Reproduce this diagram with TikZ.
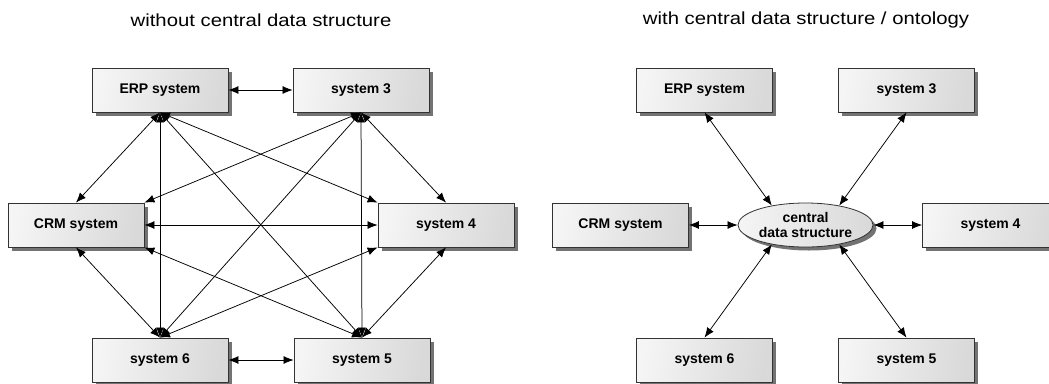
\documentclass[tikz,border=0pt]{standalone}
\usepackage{fontspec}
\setmainfont{Liberation Sans}
\usetikzlibrary{arrows.meta,shadows,shapes.geometric}
\tikzset{
  sysbox/.style={draw=black!80, line width=0.8pt, minimum width=136pt, minimum height=44pt,
    inner sep=0pt, left color=gray!8, right color=gray!30, shading angle=80,
    drop shadow={shadow xshift=3.5pt, shadow yshift=-3.5pt, fill=black!55, opacity=1},
    font=\fontsize{14}{15}\selectfont\bfseries},
  hub/.style={ellipse, draw=black!80, line width=0.8pt, minimum width=135pt, minimum height=44pt,
    inner sep=0pt, left color=gray!8, right color=gray!30,
    drop shadow={shadow xshift=3.5pt, shadow yshift=-3.5pt, fill=black!55, opacity=1},
    align=center, font=\fontsize{14}{15}\selectfont\bfseries},
  link/.style={line width=0.75pt, {Latex[length=10pt,width=8pt]}-{Latex[length=10pt,width=8pt]}},
  title/.style={font=\fontsize{17.5}{19}\selectfont, inner sep=0pt}
}
\begin{document}
\begin{tikzpicture}[x=1pt,y=-1pt]
\useasboundingbox[fill=white] (0,0) rectangle (1049,383);
\begin{scope}
\clip (0,0) rectangle (1049,383);
% titles
\node[title] (t1) at (261,20) {\scalebox{1.16}[1]{without central data structure}};
\node[title] (t2) at (806,20) {\scalebox{1.16}[1]{with central data structure / ontology}};
% left diagram
\node[sysbox] (erp) at (160,90) {ERP system};
\node[sysbox] (s3)  at (361,90) {system 3};
\node[sysbox] (crm) at (76,225) {CRM system};
\node[sysbox] (s4)  at (446,225) {system 4};
\node[sysbox] (s6)  at (160,360) {system 6};
\node[sysbox] (s5)  at (362,360) {system 5};
\draw[link] (erp.south) -- (crm.north);
\draw[link] (erp.south) -- (s6.north);
\draw[link] (erp.south) -- (s5.north);
\draw[link] (erp.south) -- (s4.north west);
\draw[link] (erp.east) -- (s3.west);
\draw[link] (s3.south) -- (crm.north east);
\draw[link] (s3.south) -- (s6.north);
\draw[link] (s3.south) -- (s5.north);
\draw[link] (s3.south) -- (s4.north);
\draw[link] (crm.east) -- (s4.west);
\draw[link] (crm.south) -- (s6.north);
\draw[link] (crm.south east) -- (s5.north);
\draw[link] (s4.south west) -- (s6.north);
\draw[link] (s4.south) -- (s5.north);
\draw[link] (s6.east) -- (s5.west);
% right diagram
\node[sysbox] (rerp) at (704.5,90) {ERP system};
\node[sysbox] (rs3)  at (906.5,90) {system 3};
\node[sysbox] (rcrm) at (620.5,225) {CRM system};
\node[sysbox] (rs4)  at (990.5,225) {system 4};
\node[sysbox] (rs6)  at (704.5,360) {system 6};
\node[sysbox] (rs5)  at (906.5,360) {system 5};
\node[hub] (hub) at (805.5,225) {central\\data structure};
\draw[link] (rerp.south) -- (hub.150);
\draw[link] (rs3.south) -- (hub.30);
\draw[link] (rcrm.east) -- (hub.west);
\draw[link] (hub.east) -- (rs4.west);
\draw[link] (hub.210) -- (rs6.north);
\draw[link] (hub.330) -- (rs5.north);
\end{scope}
\end{tikzpicture}
\end{document}
